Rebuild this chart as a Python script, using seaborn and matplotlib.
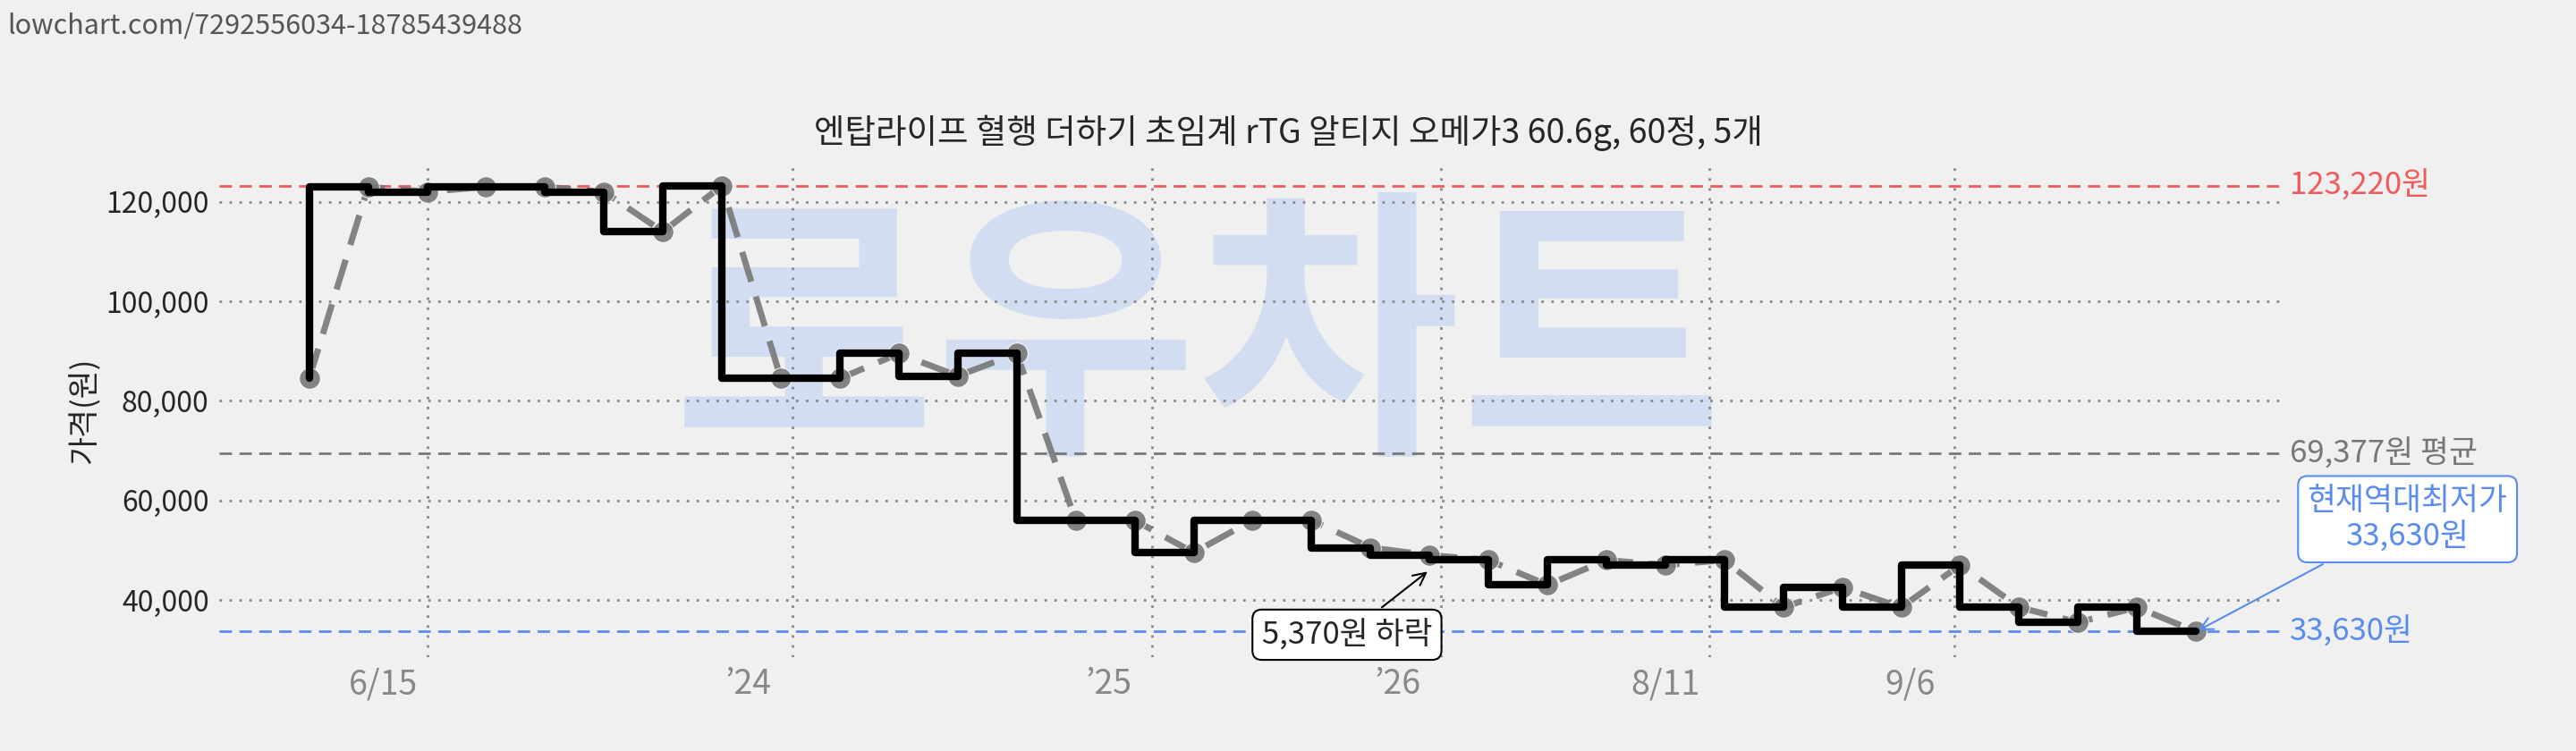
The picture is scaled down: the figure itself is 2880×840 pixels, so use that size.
import matplotlib
matplotlib.use("Agg")
import matplotlib.pyplot as plt
import seaborn as sns
import numpy as np
import pandas as pd

# data
prices = [84500, 123000, 122000, 123000, 123000, 122000, 114000, 123220,
          84500, 84500, 89500, 85000, 89500, 56000, 56000, 49500, 56000,
          56000, 50500, 49000, 48000, 43000, 48000, 47000, 48000, 38500,
          42500, 38500, 47000, 38500, 35500, 38500, 33630]
tick_pos = [2, 8.2, 14.3, 19.2, 23.75, 27.9]
tick_labels = ["6/15", "\u201924", "\u201925", "\u201926", "8/11", "9/6"]
max_price = 123220
avg_price = 69377
min_price = 33630

df = pd.DataFrame({"idx": np.arange(len(prices)), "price": prices})

sns.set_style("white")
plt.rcParams["font.family"] = ["Noto Sans CJK KR", "DejaVu Sans"]

fig = plt.figure(figsize=(28.8, 8.4), dpi=100, facecolor="#f0f0f0")
ax = fig.add_axes([0.085, 0.125, 0.80, 0.656])
ax.set_facecolor("#f0f0f0")
for s in ax.spines.values():
    s.set_visible(False)

# watermark
ax.text(0.475, 0.63, "로우차트", transform=ax.transAxes, fontsize=230,
        fontweight="black", color="#d3ddf1", ha="center", va="center", zorder=0)

# grid
for y in [40000, 60000, 80000, 100000, 120000]:
    ax.axhline(y, color="#888888", ls=(0, (1, 3)), lw=2, zorder=1)
for x in tick_pos:
    ax.axvline(x, color="#888888", ls=(0, (1, 3)), lw=2, zorder=1)

sns.lineplot(data=df, x="idx", y="price", ax=ax, color="#777777", lw=5,
             marker="o", markersize=17, alpha=0.9, zorder=3)
ax.lines[-1].set_dashes([5, 2.5])
ax.plot(df["idx"], df["price"], drawstyle="steps-pre", color="black", lw=6, zorder=4)

ax.axhline(max_price, color="#f05a5a", ls=(0, (5, 3)), lw=2, zorder=2)
ax.axhline(avg_price, color="#777777", ls=(0, (5, 3)), lw=2, zorder=2)
ax.axhline(min_price, color="#5a8cf0", ls=(0, (5, 3)), lw=2, zorder=2)

ax.set_xlim(-1.53, 33.42)
ax.set_ylim(28500, 127500)
ax.set_xticks([p - 0.75 for p in tick_pos])
ax.set_xticklabels(tick_labels, fontsize=27, color="#888888")
ax.set_yticks([40000, 60000, 80000, 100000, 120000])
ax.set_yticklabels([f"{v:,}" for v in [40000, 60000, 80000, 100000, 120000]], fontsize=23)
ax.tick_params(length=0, pad=8)
ax.set_xlabel("")
ax.set_ylabel("가격(원)", fontsize=25)

tr = ax.get_yaxis_transform()
ax.text(1.005, max_price, f"{max_price:,}원", transform=tr, color="#f05a5a",
        fontsize=25, va="center")
ax.text(1.005, avg_price, f"{avg_price:,}원 평균", transform=tr, color="#777777",
        fontsize=25, va="center")
ax.text(1.005, min_price, f"{min_price:,}원", transform=tr, color="#5a8cf0",
        fontsize=25, va="center")

ax.annotate("현재역대최저가\n33,630원", xy=(len(prices) - 1, min_price),
            xytext=(1.062, 0.28), textcoords="axes fraction", fontsize=25,
            color="#5a8cf0", ha="center", va="center",
            bbox=dict(boxstyle="round,pad=0.3", fc="white", ec="#5a8cf0", lw=1.5),
            arrowprops=dict(arrowstyle="->", color="#5a8cf0", lw=1.5))
ax.annotate("5,370원 하락", xy=(19.0, 46000), xytext=(17.6, 33000),
            fontsize=25, ha="center", va="center",
            bbox=dict(boxstyle="round,pad=0.3", fc="white", ec="black", lw=1.5),
            arrowprops=dict(arrowstyle="->", color="black", lw=1.5))

fig.text(0.5, 0.81, "엔탑라이프 혈행 더하기 초임계 rTG 알티지 오메가3 60.6g, 60정, 5개",
         fontsize=27, ha="center")
fig.text(0.003, 0.955, "lowchart.com/7292556034-18785439488", fontsize=22, color="#555555")

fig.savefig("out.png", dpi=100, facecolor=fig.get_facecolor())
